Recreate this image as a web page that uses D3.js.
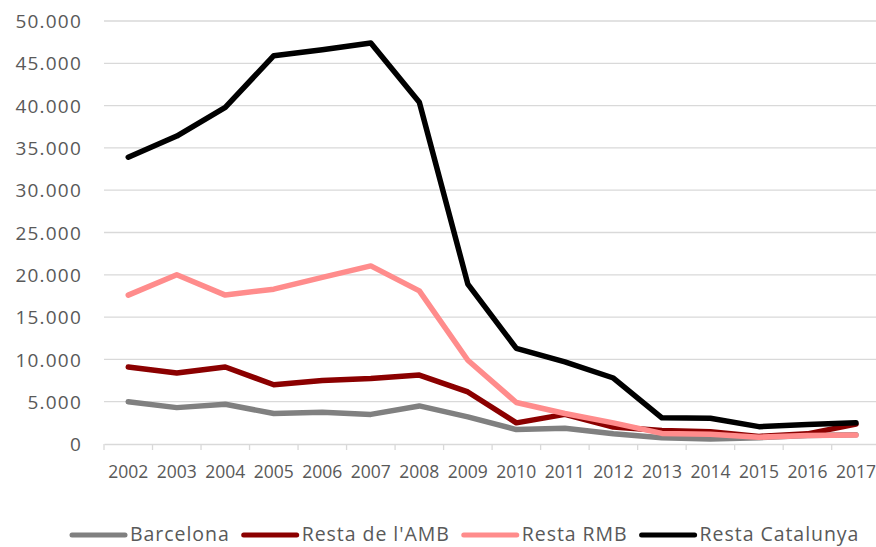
<!DOCTYPE html>
<html><head><meta charset="utf-8">
<script src="https://cdn.jsdelivr.net/npm/d3@7"></script>
<style>
html,body{margin:0;padding:0;background:#fff;}
svg{display:block;}
</style>
</head><body>
<svg id="chart" width="876" height="547"></svg>
<script>
const years = ["2002","2003","2004","2005","2006","2007","2008","2009","2010","2011","2012","2013","2014","2015","2016","2017"];
const barcelona      = [5000,4300,4700,3600,3750,3500,4500,3200,1700,1850,1200,750,600,750,1000,1100];
const restaAMB       = [9100,8400,9100,7000,7500,7750,8150,6150,2500,3500,2000,1600,1450,900,1200,2350];
const restaRMB       = [17600,20000,17600,18300,19700,21050,18100,9900,4900,3600,2500,1250,1150,800,1000,1050];
const restaCatalunya = [33900,36400,39800,45900,46600,47400,40400,18900,11300,9700,7800,3100,3050,2050,2300,2500];
const seriesNames  = ["Barcelona","Resta de l'AMB","Resta RMB","Resta Catalunya"];
const seriesValues = [barcelona, restaAMB, restaRMB, restaCatalunya];
const seriesColors = ["#808080","#8b0000","#ff8c8c","#000000"];
const yTicks = [0,5000,10000,15000,20000,25000,30000,35000,40000,45000,50000];

(function(){
const svg = d3.select("#chart");
const pLeft = 104, pRight = 880.2, pTop = 21, pBottom = 444;
const x = d3.scaleBand().domain(years).range([pLeft, pRight]);
const y = d3.scaleLinear().domain([0, 50000]).range([pBottom, pTop]);
const loc = d3.formatLocale({decimal: ",", thousands: ".", grouping: [3], currency: ["", "€"]});
const fmt = loc.format(",d");
const textColor = "#595959";
const font = "'Open Sans', sans-serif";

// gridlines
svg.append("g").selectAll("line").data(yTicks.filter(d => d > 0)).join("line")
  .attr("x1", pLeft).attr("x2", pRight)
  .attr("y1", d => y(d)).attr("y2", d => y(d))
  .attr("stroke", "#d9d9d9").attr("stroke-width", 1.3);

// y axis labels
const yAxis = d3.axisLeft(y).tickValues(yTicks).tickFormat(fmt).tickSize(0).tickPadding(0);
const gy = svg.append("g").attr("transform", "translate(82,0)").call(yAxis);
gy.select(".domain").remove();
gy.selectAll("text").attr("fill", textColor).attr("font-family", font)
  .attr("font-size", 19).attr("letter-spacing", "1.2px").attr("dy", "0.35em");

// x axis
const xAxis = d3.axisBottom(x).tickSize(0).tickPadding(0);
const gx = svg.append("g").attr("transform", `translate(0,${pBottom})`).call(xAxis);
gx.select(".domain").attr("stroke", "#d9d9d9").attr("stroke-width", 1.3);
gx.selectAll("text").attr("fill", textColor).attr("font-family", font)
  .attr("font-size", 17.5).attr("y", 34).attr("dy", 0);
// category boundary ticks
svg.append("g").selectAll("line").data(years).join("line")
  .attr("x1", d => x(d)).attr("x2", d => x(d))
  .attr("y1", pBottom).attr("y2", pBottom + 6)
  .attr("stroke", "#d9d9d9").attr("stroke-width", 1.3);

// lines
const line = d3.line().x((d, i) => x(years[i]) + x.bandwidth() / 2).y(d => y(d));
svg.append("g").selectAll("path").data(seriesValues).join("path")
  .attr("d", d => line(d))
  .attr("fill", "none")
  .attr("stroke", (d, i) => seriesColors[i])
  .attr("stroke-width", 5.5)
  .attr("stroke-linejoin", "round")
  .attr("stroke-linecap", "round");

// legend
const lg = svg.append("g");
let lx = 72;
const ly = 535;
seriesNames.forEach((name, i) => {
  lg.append("line").attr("x1", lx).attr("x2", lx + 53).attr("y1", ly).attr("y2", ly)
    .attr("stroke", seriesColors[i]).attr("stroke-width", 5).attr("stroke-linecap", "round");
  const t = lg.append("text").attr("x", lx + 58).attr("y", 541.3)
    .attr("fill", textColor).attr("font-family", font).attr("font-size", 19.5)
    .attr("letter-spacing", "0.95px").text(name);
  lx = lx + 58 + t.node().getComputedTextLength() + 14;
});
})();
</script>
</body></html>
